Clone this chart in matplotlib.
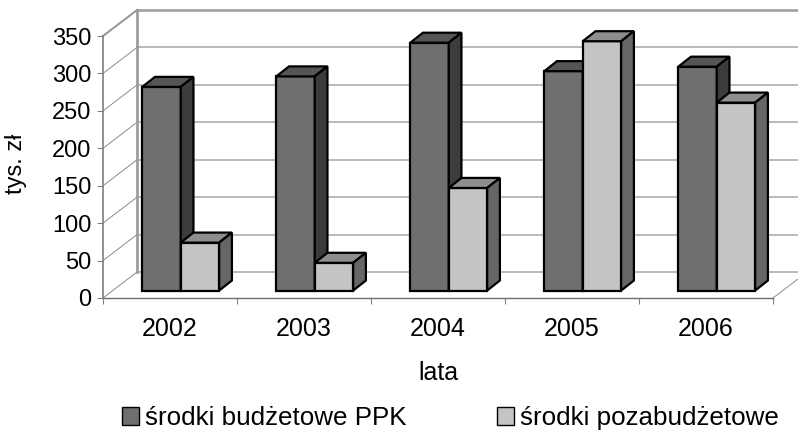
import numpy as np
import matplotlib
matplotlib.use("Agg")
import matplotlib.pyplot as plt
from matplotlib.patches import Patch, Polygon

plt.rcParams['font.family'] = ['Liberation Sans', 'DejaVu Sans']

years = ['2002', '2003', '2004', '2005', '2006']
budget = [272, 286, 331, 293, 299]
extra = [64, 37, 137, 333, 251]
y_ticks = [0, 50, 100, 150, 200, 250, 300, 350]
series_names = ['środki budżetowe PPK', 'środki pozabudżetowe']

# depth of the fake 3d box, in data units
wall_dx, wall_dy = 0.254, 34.7
# how far bars stand from the front edge, and their own depth
inset_dx, inset_dy = 0.073, 10.0
bar_dx, bar_dy = 0.095, 13.4
bar_w = 0.287
bar_start = 0.22

W, H = 798, 430
fig = plt.figure(figsize=(W / 100, H / 100), dpi=100)
ax = fig.add_axes([103 / W, 1 - 298 / H, 670 / W, 262 / H])
ax.patch.set_visible(False)
ax.set_xlim(0, len(years))
ax.set_ylim(0, 350)

for s in ['top', 'right']:
    ax.spines[s].set_visible(False)
ax.spines['left'].set_color('#808080')
ax.spines['left'].set_linewidth(1.2)
ax.spines['bottom'].set_color('#707070')
ax.spines['bottom'].set_linewidth(1.0)

ax.set_yticks(y_ticks)
ax.set_xticks(range(len(years) + 1))
ax.set_xticklabels([])
ax.set_xticks(np.arange(len(years)) + 0.5, years, minor=True)
ax.tick_params(axis='x', which='minor', length=0, labelsize=18, pad=14)
ax.tick_params(axis='x', which='major', length=4.5, color='#808080', width=0.8)
ax.tick_params(axis='y', length=4, color='#808080', width=0.8, labelsize=17, pad=4.5)
ax.set_xlabel('lata', fontsize=18, labelpad=14)
ax.set_ylabel('tys. zł', fontsize=17)
ax.yaxis.set_label_coords(-0.113, 0.513)

# back wall, side wall and floor
n = len(years)
for v in y_ticks:
    top = v == 350
    ax.plot([wall_dx, n + wall_dx], [v + wall_dy] * 2, color='#a0a0a0' if top else '#b4b4b4',
            lw=1.9 if top else 1.3, clip_on=False, zorder=1)
    ax.plot([0, wall_dx], [v, v + wall_dy], color='#9a9a9a' if top else '#8c8c8c',
            lw=1.5 if top else 0.7, clip_on=False, zorder=1)
ax.plot([wall_dx, wall_dx], [wall_dy, 350 + wall_dy], color='#999999', lw=1.9, clip_on=False, zorder=1)
ax.plot([n, n + wall_dx], [0, wall_dy], color='#8c8c8c', lw=0.7, clip_on=False, zorder=1)


def bar3d(x, v, front, top, side):
    x0 = x + inset_dx
    x1 = x0 + bar_w
    y0 = inset_dy
    y1 = inset_dy + v
    faces = [
        ([(x0, y0), (x1, y0), (x1, y1), (x0, y1)], front),
        ([(x0, y1), (x1, y1), (x1 + bar_dx, y1 + bar_dy), (x0 + bar_dx, y1 + bar_dy)], top),
        ([(x1, y0), (x1 + bar_dx, y0 + bar_dy), (x1 + bar_dx, y1 + bar_dy), (x1, y1)], side),
    ]
    for pts, c in faces:
        ax.add_patch(Polygon(pts, closed=True, facecolor=c, edgecolor='black', lw=1.6,
                             joinstyle='miter', clip_on=False, zorder=3))


dark = ('#6f6f6f', '#555555', '#3c3c3c')
light = ('#c4c4c4', '#8e8e8e', '#666666')
for i in range(n):
    bar3d(i + bar_start, budget[i], *dark)
    bar3d(i + bar_start + bar_w, extra[i], *light)

handles = [Patch(facecolor=dark[0], edgecolor='black', lw=1.0),
           Patch(facecolor=light[0], edgecolor='black', lw=1.0)]
fig.legend(handles, series_names, loc='lower left', bbox_to_anchor=(122 / W, 0.0), ncols=2,
           frameon=False, fontsize=18.7, handlelength=0.65, handleheight=0.65, handletextpad=0.23,
           columnspacing=3.5, borderaxespad=0, borderpad=0.0)

fig.savefig('out.png', dpi=100)
